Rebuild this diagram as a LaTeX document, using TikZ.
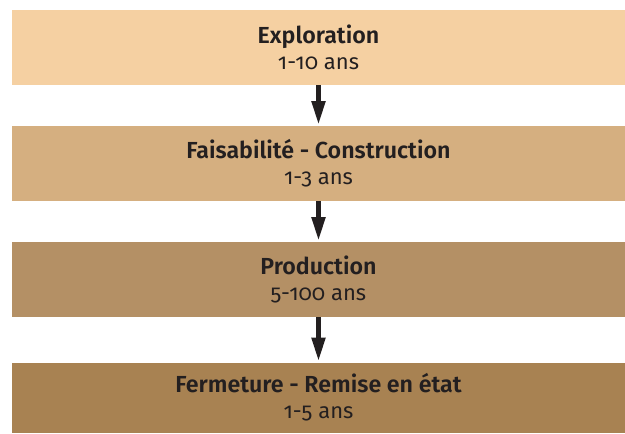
\documentclass[tikz,border=0pt]{standalone}
\usepackage{fontspec}
\setmainfont{Fira Sans}[Numbers=OldStyle,BoldFont={Fira Sans SemiBold}]
\usetikzlibrary{arrows.meta}
\definecolor{phaseA}{RGB}{245,208,162}
\definecolor{phaseB}{RGB}{213,175,128}
\definecolor{phaseC}{RGB}{180,144,101}
\definecolor{phaseD}{RGB}{168,130,82}
\definecolor{ink}{RGB}{35,31,32}
\newcommand{\phasename}[1]{{\fontsize{11.6}{13}\selectfont\bfseries #1}}
\begin{document}
\begin{tikzpicture}[x=0.5pt,y=-0.5pt,
		phase/.style={fill=#1, draw=none, inner sep=0pt, outer sep=0pt, minimum width=306.5pt,
			minimum height=37.5pt, align=center, text=ink, font=\fontsize{11}{13}\selectfont},
		next/.style={draw=ink, line width=2.5pt, -{Triangle[length=12pt, width=6.5pt]}, shorten >=0.5pt}]
		\useasboundingbox (0,0) rectangle (625,433);
		\node[phase=phaseA] (explo) at (318.5,47.5) {\phasename{Exploration}\\1-10 ans};
		\node[phase=phaseB] (faisa) at (318.5,163.5) {\phasename{Faisabilité - Construction}\\1-3 ans};
		\node[phase=phaseC] (prod) at (318.5,279.5) {\phasename{Production}\\5-100 ans};
		\node[phase=phaseD, minimum height=35pt] (ferm) at (318.5,397.5) {\phasename{Fermeture - Remise en état}\\1-5 ans};
		\draw[next] (explo.south) -- (faisa.north);
		\draw[next] (faisa.south) -- (prod.north);
		\draw[next] (prod.south) -- (ferm.north);
	\end{tikzpicture}
\end{document}
